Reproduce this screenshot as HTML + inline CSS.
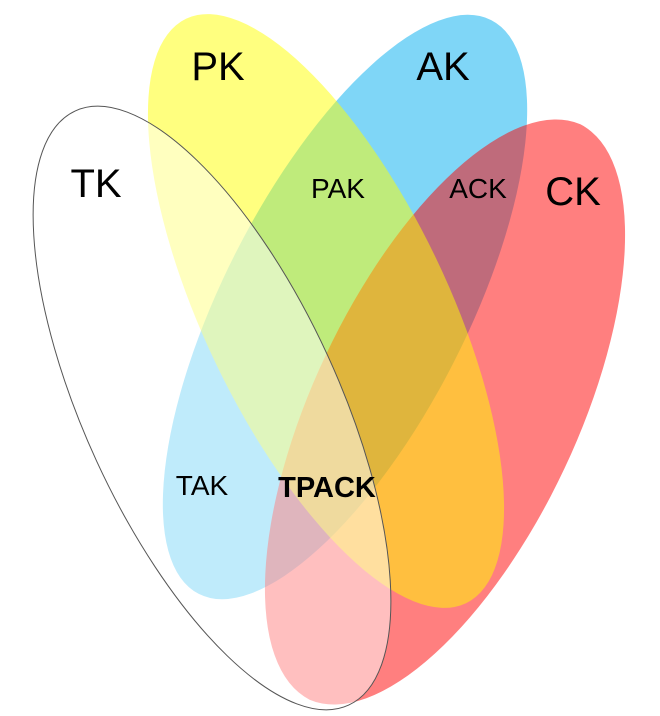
<!DOCTYPE html>
<html>
<head>
<meta charset="utf-8">
<style>
  html,body{margin:0;padding:0;background:#fff;width:660px;height:716px;overflow:hidden;}
  svg{display:block;overflow:hidden;}
  text{font-family:"Liberation Sans",Arial,sans-serif;fill:#000;}
</style>
</head>
<body>
<svg width="660" height="716" viewBox="0 0 660 716">
  <path d="M491.2,20.1 A322,122 -63 0 1 198.8,593.9 A322,122 -63 0 1 491.2,20.1 Z" fill="#00aeef" fill-opacity="0.5"/>
  <path d="M580.4,124.3 A318,134 -64.8 0 1 309.6,699.7 A318,134 -64.8 0 1 580.4,124.3 Z" fill="#ff0000" fill-opacity="0.5"/>
  <path d="M466,603.2 A324,122 64.4 0 1 186,18.8 A324,122 64.4 0 1 466,603.2 Z" fill="#ffff00" fill-opacity="0.5"/>
  <path d="M348.7,705.1 A327,127 65.3 0 1 75.3,110.9 A327,127 65.3 0 1 348.7,705.1 Z" fill="#ffffff" fill-opacity="0.5" stroke="#555" stroke-width="1"/>

  <text x="218" y="80" font-size="40" text-anchor="middle">PK</text>
  <text x="443" y="80" font-size="40" text-anchor="middle">AK</text>
  <text x="96" y="197" font-size="40" text-anchor="middle">TK</text>
  <text x="573" y="205" font-size="40" text-anchor="middle">CK</text>
  <text x="338" y="198" font-size="28" text-anchor="middle">PAK</text>
  <text x="478" y="198" font-size="28" text-anchor="middle">ACK</text>
  <text x="202" y="495" font-size="28" text-anchor="middle">TAK</text>
  <text x="327" y="497" font-size="29" font-weight="bold" text-anchor="middle">TPACK</text>
</svg>
</body>
</html>
